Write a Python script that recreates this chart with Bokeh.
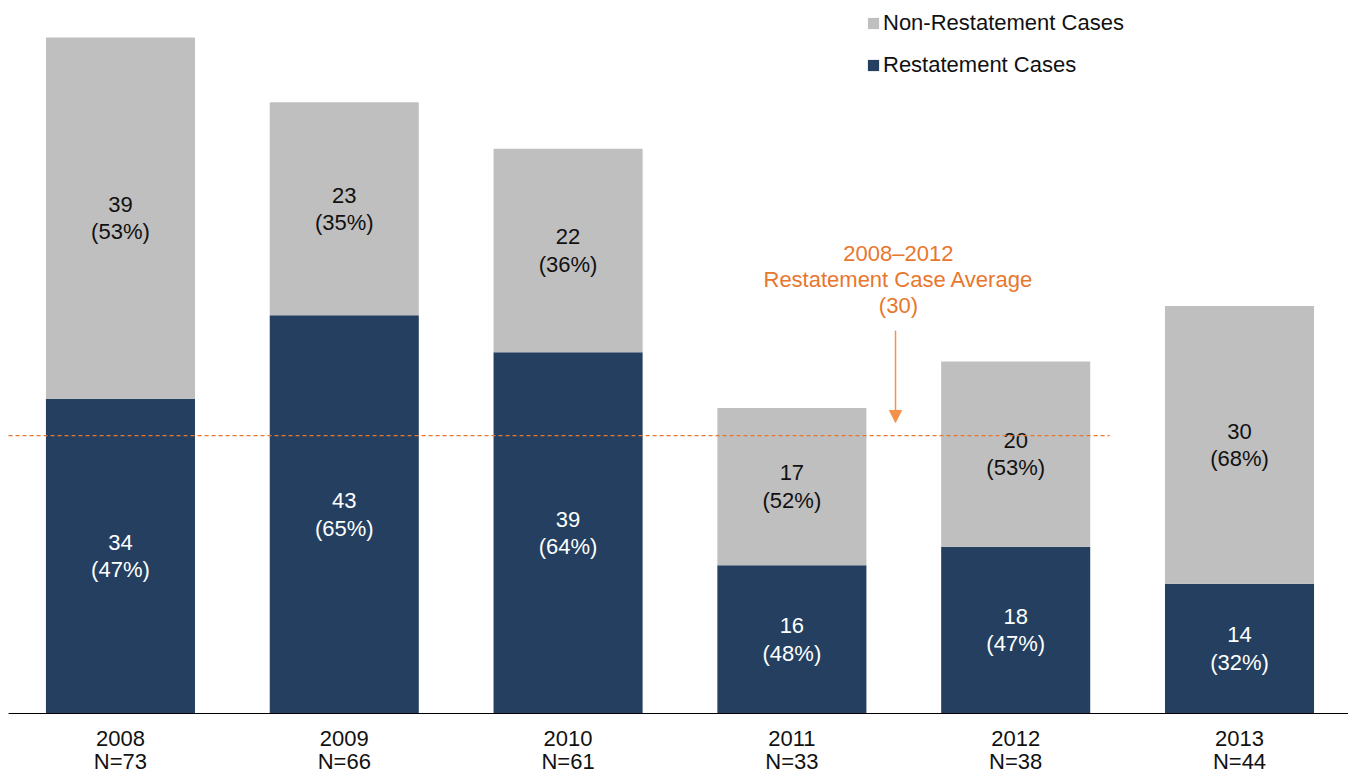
from bokeh.plotting import figure
from bokeh.models import (Range1d, ColumnDataSource, Legend, LegendItem, Arrow,
                          NormalHead, Label)
from bokeh.core.properties import value
from bokeh.embed import file_html
from bokeh.resources import INLINE

# ---- data ----
years = ["2008", "2009", "2010", "2011", "2012", "2013"]
restatement = [34, 43, 39, 16, 18, 14]
non_restatement = [39, 23, 22, 17, 20, 30]
avg_period = ["2008", "2009", "2010", "2011", "2012"]

totals = [a + b for a, b in zip(restatement, non_restatement)]
avg_vals = [r for y, r in zip(years, restatement) if y in avg_period]
avg = sum(avg_vals) / len(avg_vals)


def pct(a, t):
    return int(100.0 * a / t + 0.5)


FONT = "Liberation Sans"
NAVY = "#243F60"
GREY = "#BFBFBF"
ORANGE = "#E8772E"
ARROW_C = "#F5924A"
TXT = "#111111"

xs = list(range(len(years)))
src = ColumnDataSource(dict(
    x=xs,
    zero=[0] * len(xs),
    res=restatement,
    total=totals,
    res_mid=[r / 2 for r in restatement],
    non_mid=[r + n / 2 for r, n in zip(restatement, non_restatement)],
    res_lab=[f"{r}\n({pct(r, t)}%)" for r, t in zip(restatement, totals)],
    non_lab=[f"{n}\n({pct(n, t)}%)" for n, t in zip(non_restatement, totals)],
    tick_lab=[f"{y}\nN={t}" for y, t in zip(years, totals)],
))

p = figure(width=1348, height=776,
           x_range=Range1d(-0.536, 5.487), y_range=Range1d(-6.803, 76.997),
           output_backend="svg", toolbar_location=None,
           min_border=0, x_axis_location=None, y_axis_location=None)

r_res = p.vbar(x="x", bottom=0, top="res", width=0.666, fill_color=NAVY,
               line_color=None, source=src)
r_non = p.vbar(x="x", bottom="res", top="total", width=0.666, fill_color=GREY,
               line_color=None, source=src)

p.text(x="x", y="res_mid", text="res_lab", source=src, text_align="center",
       text_baseline="middle", text_color="white", text_font=value(FONT),
       text_font_size="22px", text_line_height=1.1)
p.text(x="x", y="non_mid", text="non_lab", source=src, text_align="center",
       text_baseline="middle", text_color=TXT, text_font=value(FONT),
       text_font_size="22px", text_line_height=1.1)

# category axis: baseline + two-line category labels
p.line(x=[-0.5, 5.487], y=[0, 0], line_color="black", line_width=1)
p.text(x="x", y="zero", text="tick_lab", source=src, text_align="center",
       text_baseline="top", y_offset=12, text_color=TXT, text_font=value(FONT),
       text_font_size="22px", text_line_height=0.95)

# average line
p.line(x=[-0.5, 4.42], y=[avg, avg], line_color=ORANGE, line_dash="4 3",
       line_width=1.2)

p.add_layout(Arrow(x_start=3.463, y_start=avg + 11.36, x_end=3.463, y_end=avg + 1.43,
                   line_color=ARROW_C, line_width=1.5,
                   end=NormalHead(size=12, fill_color=ARROW_C, line_color=ARROW_C)))
p.add_layout(Label(x=3.476, y=avg + 16.87,
                   text=f"2008\u20132012\nRestatement Case Average\n({int(round(avg))})",
                   text_align="center", text_baseline="middle",
                   text_color=ORANGE, text_font=FONT, text_font_size="22px",
                   text_line_height=1.05))

p.xgrid.visible = False
p.ygrid.visible = False
p.outline_line_color = None

legend = Legend(items=[LegendItem(label="Non-Restatement Cases", renderers=[r_non]),
                       LegendItem(label="Restatement Cases", renderers=[r_res])],
                location=(866, 698), orientation="vertical",
                glyph_width=14, glyph_height=14, label_standoff=3,
                label_text_font=FONT, label_text_font_size="22px",
                label_text_color=TXT, spacing=16, padding=0, margin=0,
                border_line_color=None, background_fill_alpha=0)
p.add_layout(legend)

open("out.html", "w").write(file_html(p, INLINE))
